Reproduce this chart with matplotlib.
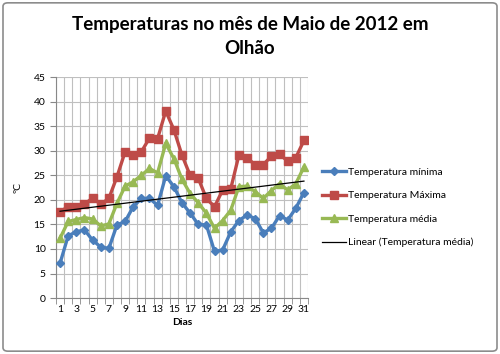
import matplotlib
matplotlib.use("Agg")
import matplotlib.pyplot as plt
from matplotlib.patches import FancyBboxPatch
import numpy as np

# --- dados ---
dias = np.arange(1, 32)
t_min = [7.1, 12.7, 13.5, 13.9, 11.8, 10.4, 10.1, 14.9, 15.6, 18.6,
         20.3, 20.3, 18.9, 24.9, 22.7, 19.4, 17.3, 15.0, 14.9, 9.5,
         9.8, 13.5, 15.8, 16.9, 16.2, 13.3, 14.2, 16.8, 15.9, 18.3, 21.5]
t_max = [17.6, 18.6, 18.6, 19.1, 20.4, 19.1, 20.3, 24.7, 29.8, 29.1,
         29.8, 32.6, 32.5, 38.1, 34.3, 29.1, 25.0, 24.4, 20.3, 18.6,
         22.0, 22.3, 29.1, 28.6, 27.1, 27.2, 28.9, 29.3, 27.9, 28.6, 32.1]
t_med = [12.2, 15.6, 16.0, 16.4, 16.1, 14.7, 15.1, 19.3, 22.8, 23.7,
         25.0, 26.4, 25.5, 31.5, 28.4, 24.2, 21.3, 19.4, 17.3, 14.2,
         15.8, 17.9, 22.7, 22.8, 21.7, 20.3, 21.9, 23.3, 22.0, 23.3, 26.7]

titulo = "Temperaturas no mês de Maio de 2012 em\nOlhão"

# linha de tendência linear da média
coef = np.polyfit(dias, t_med, 1)
tendencia = np.polyval(coef, dias)

plt.rcParams['font.family'] = ['Lato', 'DejaVu Sans']

fig = plt.figure(figsize=(5.0, 3.54), dpi=100)
ax = fig.add_axes([0.112, 0.158, 0.504, 0.624])

ax.plot(dias, t_min, color='#4a7ebb', lw=2.4, marker='D', ms=4.5,
        label='Temperatura mínima', zorder=3)
ax.plot(dias, t_max, color='#be4b48', lw=2.4, marker='s', ms=6,
        label='Temperatura Máxima', zorder=3)
ax.plot(dias, t_med, color='#98b954', lw=2.4, marker='^', ms=6,
        label='Temperatura média', zorder=3)
ax.plot(dias, tendencia, color='black', lw=0.9,
        label='Linear (Temperatura média)', zorder=4)

ax.set_xlim(0.5, 31.5)
ax.set_ylim(0, 45)
ax.set_yticks(np.arange(0, 46, 5))
ax.set_xticks(dias[::2])
ax.set_xticks(np.arange(0.5, 32, 1), minor=True)
ax.tick_params(axis='x', which='major', length=0, labelsize=7.5, pad=5)
ax.tick_params(axis='x', which='minor', length=4, color='#888888')
ax.tick_params(axis='y', labelsize=7.5, length=4, color='#888888')

ax.grid(True, axis='y', color='#bfbfbf', lw=0.8)
ax.grid(True, axis='x', which='minor', color='#bfbfbf', lw=0.8)
ax.set_axisbelow(True)
for s in ['top', 'right']:
    ax.spines[s].set_visible(False)
for s in ['left', 'bottom']:
    ax.spines[s].set_color('#888888')

ax.set_xlabel('Dias', fontsize=7.5, fontweight='bold', labelpad=3)
ax.set_ylabel('ºC', fontsize=7.5, labelpad=8)

fig.text(0.5, 0.897, titulo, ha='center', va='center', fontsize=13.5,
         fontweight='bold', linespacing=1.45, multialignment='center')

ax.legend(loc='center left', bbox_to_anchor=(1.02, 0.41), frameon=False,
          fontsize=7.5, handlelength=2.3, handletextpad=0.2,
          labelspacing=1.35)

borda = FancyBboxPatch((0.006, 0.008), 0.988, 0.984,
                       boxstyle='round,pad=0,rounding_size=0.01',
                       transform=fig.transFigure, fill=False,
                       edgecolor='#8c8c8c', lw=1.2)
fig.patches.append(borda)

fig.savefig('out.png', dpi=100)
